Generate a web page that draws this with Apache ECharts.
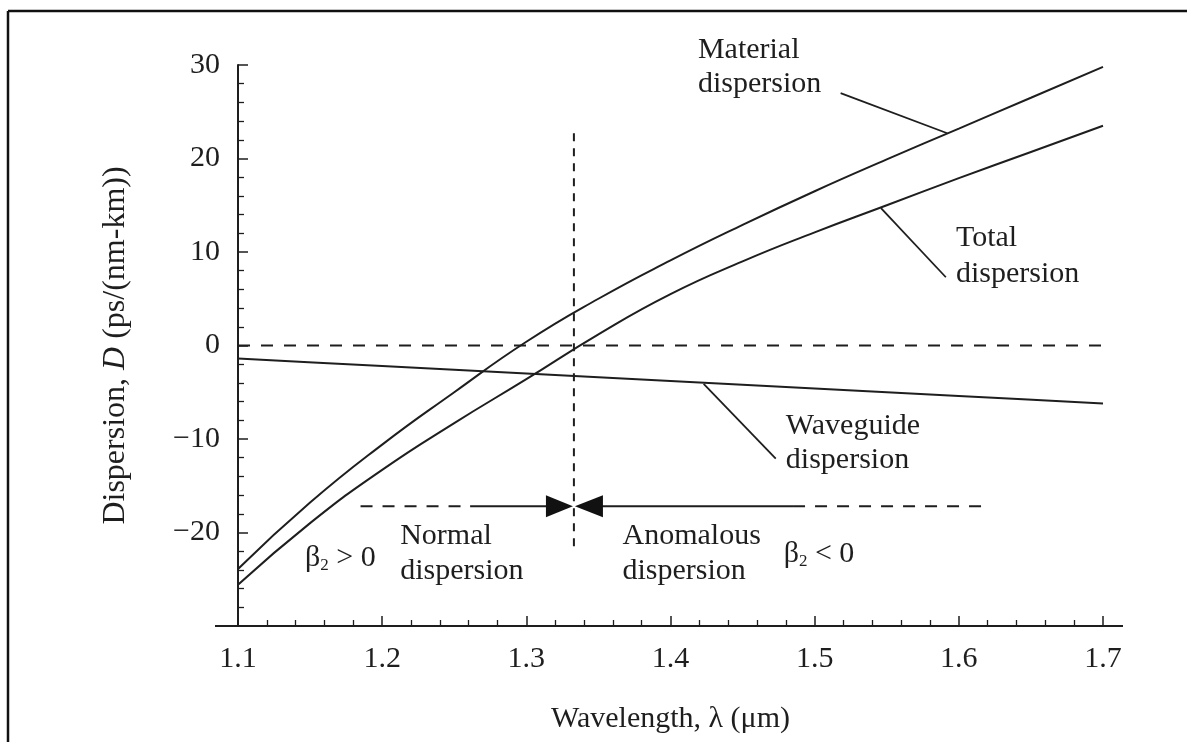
<!DOCTYPE html>
<html><head><meta charset="utf-8">
<script src="https://cdn.jsdelivr.net/npm/echarts@6/dist/echarts.min.js"></script>
<style>html,body{margin:0;padding:0;background:#fff}#c{width:1187px;height:742px}</style>
</head><body><div id="c"></div><script>
// ---- data ----
const wavelength = [1.10, 1.15, 1.20, 1.25, 1.30, 1.35, 1.40, 1.45, 1.50, 1.55, 1.60, 1.65, 1.70];
const materialDispersion = [-23.9, -16.8, -10.6, -5.0, 0.4, 5.0, 9.1, 12.9, 16.5, 19.9, 23.2, 26.5, 29.8];
const totalDispersion = [-25.6, -19.0, -13.3, -8.3, -3.6, 1.2, 5.5, 9.0, 12.1, 15.0, 17.9, 20.7, 23.5];
const waveguideWavelength = [1.1, 1.2, 1.3, 1.4, 1.5, 1.6, 1.7];
const waveguideDispersion = [-1.4, -2.2, -3.0, -3.8, -4.6, -5.4, -6.2];
const zeroDispersionWavelength = 1.333;
const xTicks = ['1.1', '1.2', '1.3', '1.4', '1.5', '1.6', '1.7'];
const yTicks = ['30', '20', '10', '0', '\u221210', '\u221220'];

const FONT = 'Liberation Serif';
const INK = '#1e1e1e';
const FS = 30;

const pair = (xs, ys) => xs.map((x, i) => [x, ys[i]]);
const seg = (a, b, type, w) => ({
  type: 'line', data: [a, b], showSymbol: false, silent: true, animation: false,
  lineStyle: { color: INK, width: w || 1.8, type: type || 'solid' }, z: 3
});

const arrowY = -17.2;
const chart = echarts.init(document.getElementById('c'));
const option = {
  backgroundColor: '#fff',
  animation: false,
  grid: { left: 238, right: 84, top: 65, bottom: 116 },
  xAxis: {
    type: 'value', min: 1.1, max: 1.7, interval: 0.1,
    name: 'Wavelength, \u03bb (\u03bcm)', nameLocation: 'middle', nameGap: 78,
    nameTextStyle: { fontFamily: FONT, fontSize: 30, color: INK },
    axisLine: { onZero: false, lineStyle: { color: INK, width: 2 } },
    axisTick: { inside: true, length: 10, lineStyle: { color: INK, width: 1.5 } },
    minorTick: { show: true, splitNumber: 5, length: 6, lineStyle: { color: INK, width: 1.3 } },
    splitLine: { show: false },
    axisLabel: {
      fontFamily: FONT, fontSize: FS, color: INK, margin: 18,
      formatter: v => { const s = v.toFixed(1); return xTicks.includes(s) ? s : ''; }
    }
  },
  yAxis: {
    type: 'value', min: -30, max: 30, interval: 10,
    name: '{a|Dispersion, }{i|D}{a| (ps/(nm-km))}', nameLocation: 'middle', nameRotate: 90, nameGap: 106,
    nameTextStyle: { rich: { a: { fontFamily: FONT, fontSize: 32, color: INK }, i: { fontFamily: FONT, fontSize: 32, fontStyle: 'italic', color: INK } } },
    axisLine: { onZero: false, lineStyle: { color: INK, width: 2 } },
    axisTick: { inside: true, length: 10, lineStyle: { color: INK, width: 1.5 } },
    minorTick: { show: true, splitNumber: 5, length: 6, lineStyle: { color: INK, width: 1.3 } },
    splitLine: { show: false },
    axisLabel: {
      fontFamily: FONT, fontSize: FS, color: INK, margin: 18,
      formatter: v => { const s = v < 0 ? '\u2212' + Math.abs(v) : String(v); return yTicks.includes(s) ? s : ''; }
    }
  },
  series: [
    { name: 'Material dispersion', type: 'line', data: pair(wavelength, materialDispersion), smooth: true, showSymbol: false, lineStyle: { color: INK, width: 2 }, z: 4 },
    { name: 'Total dispersion', type: 'line', data: pair(wavelength, totalDispersion), smooth: true, showSymbol: false, lineStyle: { color: INK, width: 2 }, z: 4 },
    { name: 'Waveguide dispersion', type: 'line', data: pair(waveguideWavelength, waveguideDispersion), smooth: 0.2, showSymbol: false, lineStyle: { color: INK, width: 2 }, z: 4 },
    // zero line and zero-dispersion wavelength
    seg([1.1, 0], [1.7, 0], [12, 11], 2),
    seg([zeroDispersionWavelength, 22.7], [zeroDispersionWavelength, -21.5], [8, 7], 2),
    // normal / anomalous arrows
    seg([1.185, arrowY], [1.261, arrowY], [12, 10], 2),
    seg([1.261, arrowY], [1.32, arrowY], 'solid', 2),
    seg([1.346, arrowY], [1.485, arrowY], 'solid', 2),
    seg([1.485, arrowY], [1.62, arrowY], [12, 10], 2),
    // leader lines
    seg([1.518, 27.0], [1.592, 22.7], 'solid', 1.8),
    seg([1.546, 14.7], [1.591, 7.3], 'solid', 1.8),
    seg([1.423, -4.1], [1.473, -12.1], 'solid', 1.8)
  ]
};
chart.setOption(option);

const px = (x, y) => chart.convertToPixel({ gridIndex: 0 }, [x, y]);
const txt = (s, x, y) => {
  const p = px(x, y);
  return { type: 'text', x: p[0], y: p[1], z: 10,
    style: { text: s, fontFamily: FONT, fontSize: FS, fill: INK, textVerticalAlign: 'middle', textAlign: 'left' } };
};
const betaTxt = (rel, x, y) => {
  const p = px(x, y);
  return { type: 'text', x: p[0], y: p[1], z: 10,
    style: { text: '{b|\u03b2}{s|2}{b| ' + rel + ' 0}', textVerticalAlign: 'middle',
      rich: { b: { fontFamily: FONT, fontSize: FS, fill: INK }, s: { fontFamily: FONT, fontSize: 17, fill: INK, padding: [16, 0, 0, 0] } } } };
};
const tip = px(zeroDispersionWavelength, arrowY);
const x0 = px(1.1, -30), x1 = px(1.7, -30);
chart.setOption({
  graphic: [
    // outer frame (top + left)
    { type: 'line', shape: { x1: 8, y1: 11, x2: 1187, y2: 11 }, style: { stroke: '#111', lineWidth: 2.5 } },
    { type: 'line', shape: { x1: 8, y1: 11, x2: 8, y2: 742 }, style: { stroke: '#111', lineWidth: 2.5 } },
    // x-axis line overhang
    { type: 'line', shape: { x1: x0[0] - 23, y1: x0[1], x2: x1[0] + 20, y2: x1[1] }, style: { stroke: INK, lineWidth: 2 } },
    // arrowheads
    { type: 'polygon', shape: { points: [[tip[0] - 1, tip[1]], [tip[0] - 28, tip[1] - 11], [tip[0] - 28, tip[1] + 11]] }, style: { fill: '#111' }, z: 10 },
    { type: 'polygon', shape: { points: [[tip[0] + 1, tip[1]], [tip[0] + 29, tip[1] - 11], [tip[0] + 29, tip[1] + 11]] }, style: { fill: '#111' }, z: 10 },
    txt('Material', 1.419, 31.6),
    txt('dispersion', 1.419, 28.0),
    txt('Total', 1.598, 11.5),
    txt('dispersion', 1.598, 7.6),
    txt('Waveguide', 1.480, -8.6),
    txt('dispersion', 1.480, -12.3),
    txt('Normal', 1.2125, -20.4),
    txt('dispersion', 1.2125, -24.1),
    txt('Anomalous', 1.3667, -20.4),
    txt('dispersion', 1.3667, -24.1),
    betaTxt('>', 1.1465, -22.7),
    betaTxt('<', 1.4785, -22.3)
  ]
});
</script></body></html>
